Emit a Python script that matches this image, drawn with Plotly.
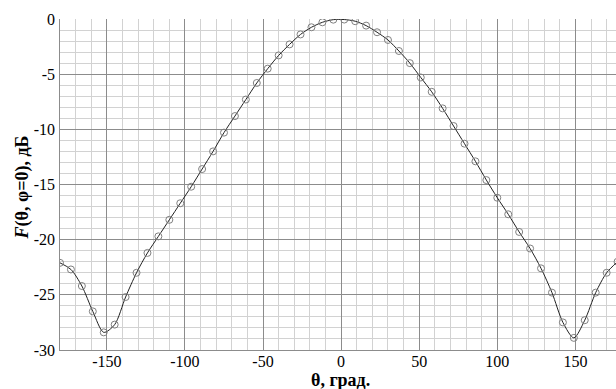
import plotly.graph_objects as go

theta = [-180, -173, -166, -159, -152, -145, -138, -131, -124, -117, -110, -103,
         -96, -89, -82, -75, -68, -61, -54, -47, -40, -33, -26, -19, -12, -5,
         2, 9, 16, 23, 30, 37, 44, 51, 58, 65, 72, 79, 86, 93, 100, 107,
         114, 121, 128, 135, 142, 149, 156, 163, 170, 177]
F_db = [-22.1, -22.7, -24.2, -26.5, -28.4, -27.7, -25.2, -23.0, -21.2, -19.7, -18.2, -16.7,
        -15.2, -13.6, -12.0, -10.3, -8.8, -7.3, -5.8, -4.5, -3.3, -2.3, -1.4, -0.75, -0.3, -0.06,
        -0.05, -0.2, -0.6, -1.2, -1.9, -2.9, -4.0, -5.3, -6.6, -8.1, -9.7, -11.3, -12.9, -14.6, -16.2, -17.7,
        -19.3, -20.8, -22.6, -24.8, -27.5, -28.9, -27.3, -24.8, -23.0, -22.0]

x_ticks = [-150, -100, -50, 0, 50, 100, 150]
y_ticks = [0, -5, -10, -15, -20, -25, -30]
x_title = "θ, град."
y_title = "<i>F</i>(θ, φ=0), дБ"

ff = "Liberation Serif"
tick_font = dict(family=ff, size=16, color="black")
x_range = [-180, 176]
y_range = [-30, 0]

fig = go.Figure()
# minor grid lives on the main axes (x, y)
fig.add_trace(go.Scatter(
    x=theta, y=F_db, mode="lines",
    line=dict(color="#222222", width=1, shape="spline", smoothing=0.8),
    hoverinfo="skip", showlegend=False))
fig.add_trace(go.Scatter(
    x=theta, y=F_db, mode="markers",
    marker=dict(symbol="circle-open", size=7, color="#808080", line=dict(width=1, color="#808080")),
    showlegend=False))
# invisible trace to activate the overlay axes (major grid + labels)
fig.add_trace(go.Scatter(x=[theta[0]], y=[F_db[0]], xaxis="x2", yaxis="y2", mode="markers",
                         marker=dict(opacity=0), hoverinfo="skip", showlegend=False))

fig.update_layout(
    width=616, height=389,
    margin=dict(l=60, r=0, t=19, b=39),
    paper_bgcolor="white", plot_bgcolor="white",
    font=dict(family=ff, size=16, color="black"),
    xaxis=dict(
        range=x_range, tickmode="linear", tick0=0, dtick=10, showticklabels=False,
        showgrid=True, gridcolor="#d2d2d2", gridwidth=1,
        showline=True, linecolor="#8c8c8c", linewidth=1,
        zeroline=False, ticks="", automargin=False),
    yaxis=dict(
        range=y_range, tickmode="linear", tick0=0, dtick=1, showticklabels=False,
        showgrid=True, gridcolor="#d2d2d2", gridwidth=1,
        showline=True, linecolor="#8c8c8c", linewidth=1,
        zeroline=False, ticks="", automargin=False),
    xaxis2=dict(
        overlaying="x", anchor="y2", side="bottom",
        range=x_range, tickmode="array", tickvals=x_ticks, ticktext=[str(v) for v in x_ticks],
        tickfont=tick_font, showgrid=True, gridcolor="#8c8c8c", gridwidth=1,
        showline=False, zeroline=False, ticks="", ticklabelstandoff=0, automargin=False),
    yaxis2=dict(
        overlaying="y", anchor="x2", side="left",
        range=y_range, tickmode="array", tickvals=y_ticks, ticktext=[str(v) for v in y_ticks],
        tickfont=tick_font, showgrid=True, gridcolor="#8c8c8c", gridwidth=1,
        showline=False, zeroline=False, ticks="", ticklabelstandoff=4, automargin=False),
    annotations=[
        dict(text="<b>" + x_title + "</b>", xref="paper", yref="paper", x=0.505, y=0,
             yshift=-30, yanchor="middle", xanchor="center", showarrow=False,
             font=dict(family=ff, size=18, color="black")),
        dict(text="<b>" + y_title + "</b>", xref="paper", yref="paper", x=0, y=0.5,
             yshift=-3, xshift=-38, xanchor="center", yanchor="middle", textangle=-90, showarrow=False,
             font=dict(family=ff, size=18, color="black")),
    ],
)

fig.write_html("out.html")
